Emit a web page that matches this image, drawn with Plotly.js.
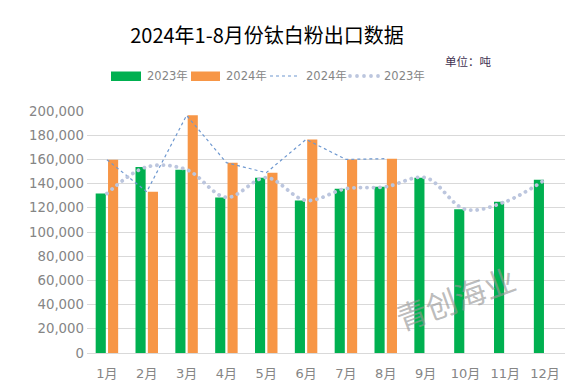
<!DOCTYPE html>
<html>
<head>
<meta charset="utf-8">
<script src="https://cdn.plot.ly/plotly-3.0.1.min.js"></script>
<style>html,body{margin:0;padding:0;background:#fff}#chart{width:584px;height:392px}
#chart .scatterlayer .trace:last-child path.js-line{stroke-linecap:round !important;stroke-dasharray:0.1px,6.4px !important}</style>
</head>
<body>
<div id="chart"></div>
<script>
const months = ["1月","2月","3月","4月","5月","6月","7月","8月","9月","10月","11月","12月"];
const export2023 = [131800, 153800, 151500, 128600, 144900, 126100, 135800, 137400, 144900, 118700, 125000, 143200];
const export2024 = [159700, 133300, 196400, 157300, 149000, 176500, 160000, 160600, null, null, null, null];
const yTicks = [0, 20000, 40000, 60000, 80000, 100000, 120000, 140000, 160000, 180000, 200000];
const legendNames = ["2023年", "2024年", "2024年", "2023年"];

const cjk = '"Noto Sans CJK SC", "Noto Sans", sans-serif';
const tickFont = '"DejaVu Sans", "Noto Sans CJK SC", sans-serif';
const tickColor = '#858585';
const green = '#00b050', orange = '#f79646', blueLine = '#6e98d0', greyDots = '#bcc6de';

// plot area in pixels
const L = 87, R = 565, T = 111, B = 353;
const px = v => (v - L) / (R - L);
const py = v => (B - v) / (B - T);

const data = [
  {type:'bar', name:legendNames[0], x:months, y:export2023, marker:{color:green}},
  {type:'bar', name:legendNames[1], x:months, y:export2024, marker:{color:orange}},
  {type:'scatter', mode:'lines', name:legendNames[2], x:months, y:export2024,
   line:{color:blueLine, width:1.2, dash:'dot'}, connectgaps:false},
  {type:'scatter', mode:'lines', name:legendNames[3], x:months, y:export2023,
   line:{color:greyDots, width:3.8, dash:'2.4px,4px', shape:'spline', smoothing:1}}
];

const legY = 76;
const shapes = [
  {type:'rect', xref:'paper', yref:'paper', x0:px(111), x1:px(141), y0:py(71.5), y1:py(81), fillcolor:green, line:{width:0}},
  {type:'rect', xref:'paper', yref:'paper', x0:px(191), x1:px(220), y0:py(71.5), y1:py(81), fillcolor:orange, line:{width:0}},
  {type:'line', xref:'paper', yref:'paper', x0:px(270), x1:px(299), y0:py(legY), y1:py(legY), line:{color:blueLine, width:1.2, dash:'dot'}}
];
[350, 357, 364, 371, 378].forEach(c => shapes.push(
  {type:'circle', xref:'paper', yref:'paper', x0:px(c-1.9), x1:px(c+1.9), y0:py(legY+1.9), y1:py(legY-1.9), fillcolor:greyDots, line:{width:0}}
));

const legFont = {family:tickFont, size:11.5, color:tickColor};
const annotations = [
  {text:legendNames[0], xref:'paper', yref:'paper', x:px(145), y:py(legY), xanchor:'left', yanchor:'middle', showarrow:false, font:legFont},
  {text:legendNames[1], xref:'paper', yref:'paper', x:px(224), y:py(legY), xanchor:'left', yanchor:'middle', showarrow:false, font:legFont},
  {text:legendNames[2], xref:'paper', yref:'paper', x:px(304), y:py(legY), xanchor:'left', yanchor:'middle', showarrow:false, font:legFont},
  {text:legendNames[3], xref:'paper', yref:'paper', x:px(382), y:py(legY), xanchor:'left', yanchor:'middle', showarrow:false, font:legFont},
  {text:'单位：吨', xref:'paper', yref:'paper', x:px(494), y:py(61), xanchor:'right', yanchor:'middle',
   showarrow:false, font:{family:cjk, size:11.5, color:'#3f3151'}},
  {text:'青创海业', xref:'paper', yref:'paper', x:px(455), y:py(297), xanchor:'center', yanchor:'middle',
   showarrow:false, textangle:-20, font:{family:cjk, size:31, color:'rgba(150,150,150,0.65)'}}
];

const layout = {
  width:584, height:392,
  margin:{l:L, r:584-R, t:T, b:392-B},
  paper_bgcolor:'#fff', plot_bgcolor:'#fff',
  barmode:'group', bargap:0.38, bargroupgap:0.18,
  title:{text:'2024年1-8月份钛白粉出口数据', font:{family:cjk, size:20, color:'#000'},
         xref:'container', yref:'container', x:267/584, xanchor:'center', y:1-36/392, yanchor:'middle'},
  showlegend:false,
  xaxis:{type:'category', tickfont:{family:tickFont, size:13, color:tickColor}, showgrid:false,
         showline:false, ticks:'', zeroline:false, ticklabelstandoff:11},
  yaxis:{range:[0,200000], tickvals:yTicks, tickformat:',d', tickfont:{family:tickFont, size:13.3, color:tickColor},
         gridcolor:'#d9d9d9', gridwidth:1, zeroline:true, zerolinecolor:'#d9d9d9', showline:false, ticks:'', ticklabelstandoff:2},
  shapes:shapes,
  annotations:annotations
};

Plotly.newPlot('chart', data, layout, {displayModeBar:false, staticPlot:true});
</script>
</body>
</html>
